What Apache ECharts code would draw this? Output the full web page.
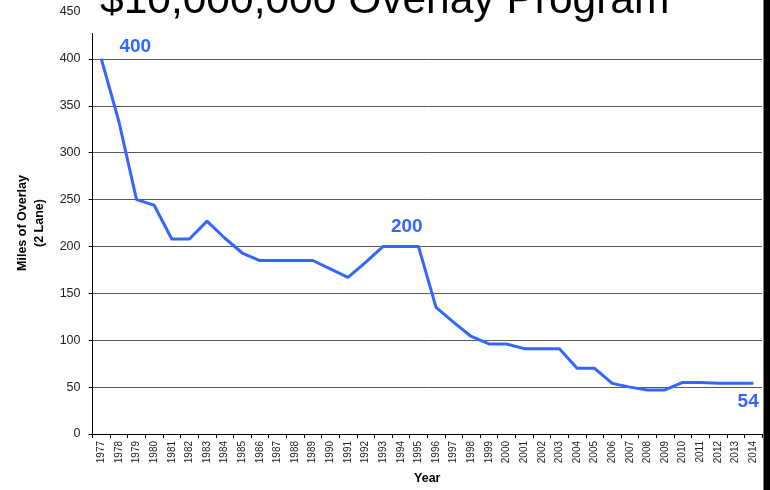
<!DOCTYPE html>
<html>
<head>
<meta charset="utf-8">
<script src="https://cdn.jsdelivr.net/npm/echarts@6/dist/echarts.min.js"></script>
<style>
  html, body { margin: 0; padding: 0; background: #fff; }
  #chart { width: 770px; height: 490px; }
</style>
</head>
<body>
<div id="chart"></div>
<script>
// years on the x axis
const years = ['1977', '1978', '1979', '1980', '1981', '1982', '1983', '1984', '1985', '1986',
  '1987', '1988', '1989', '1990', '1991', '1992', '1993', '1994', '1995', '1996',
  '1997', '1998', '1999', '2000', '2001', '2002', '2003', '2004', '2005', '2006',
  '2007', '2008', '2009', '2010', '2011', '2012', '2013', '2014']
// miles of overlay (2 lane) per year
const miles = [400, 333, 250, 244, 208, 208, 227, 209, 193, 185,
  185, 185, 185, 176, 167, 183, 200, 200, 200, 135,
  119, 104, 96, 96, 91, 91, 91, 70, 70, 54,
  50, 47, 47, 55, 55, 54, 54, 54]
// years whose value is written on the chart
const labelYears = ['1977', '1994', '2014']

const blue = '#3366ff'
const font = 'Liberation Sans, Arial, sans-serif'

// where each value label sits relative to its point
const labelPlace = {
  '1977': { position: 'top', offset: [34, 3] },
  '1994': { position: 'top', offset: [6, -5] },
  '2014': { position: 'bottom', offset: [-5, 3] }
}

const seriesData = miles.map((v, i) => {
  const y = years[i]
  if (labelYears.indexOf(y) < 0) return v
  return {
    value: v,
    label: Object.assign({
      show: true,
      color: blue,
      fontFamily: font,
      fontWeight: 'bold',
      fontSize: 19
    }, labelPlace[y])
  }
})

const myChart = echarts.init(document.getElementById('chart'))
myChart.setOption({
  animation: false,
  grid: { left: 92.5, right: 8, top: 12, bottom: 54 },
  xAxis: {
    type: 'category',
    data: years,
    boundaryGap: true,
    name: 'Year',
    nameLocation: 'middle',
    nameGap: 38,
    nameTextStyle: { fontFamily: font, fontWeight: 'bold', fontSize: 12.5, color: '#000' },
    axisLine: { lineStyle: { color: '#000', width: 1 } },
    axisTick: { show: true, interval: 0, length: 4, lineStyle: { color: '#000' } },
    axisLabel: { interval: 0, rotate: 90, margin: 7, fontFamily: font, fontSize: 10, color: '#222' },
    splitLine: { show: false }
  },
  yAxis: {
    type: 'value',
    min: 0,
    max: 450,
    interval: 50,
    name: 'Miles of Overlay\n(2 Lane)',
    nameLocation: 'middle',
    nameGap: 44,
    nameTextStyle: { fontFamily: font, fontWeight: 'bold', fontSize: 12.5, lineHeight: 17, color: '#000' },
    axisLine: { show: true, lineStyle: { color: '#000', width: 1 } },
    axisTick: { show: true, length: 4, lineStyle: { color: '#000' } },
    axisLabel: { margin: 12, fontFamily: font, fontSize: 12.5, color: '#222' },
    splitLine: { show: true, lineStyle: { color: '#5a5a5a', width: 1 } }
  },
  series: [
    {
      type: 'line',
      data: seriesData,
      symbol: 'circle',
      symbolSize: 1,
      lineStyle: { color: blue, width: 3 },
      itemStyle: { color: blue }
    }
  ],
  graphic: [
    // the title box hides the top of the plot
    {
      type: 'rect',
      z: 100,
      shape: { x: 85, y: 0, width: 680, height: 33 },
      style: { fill: '#fff' }
    },
    {
      type: 'text',
      z: 101,
      x: 100,
      y: 1,
      style: {
        text: '$10,000,000 Overlay Program',
        fontFamily: font,
        fontSize: 42.5,
        fill: '#000',
        verticalAlign: 'middle'
      }
    },
    // dark edge on the right
    {
      type: 'rect',
      z: 102,
      shape: { x: 763.5, y: 0, width: 7, height: 490 },
      style: { fill: '#000' }
    }
  ]
})
</script>
</body>
</html>
